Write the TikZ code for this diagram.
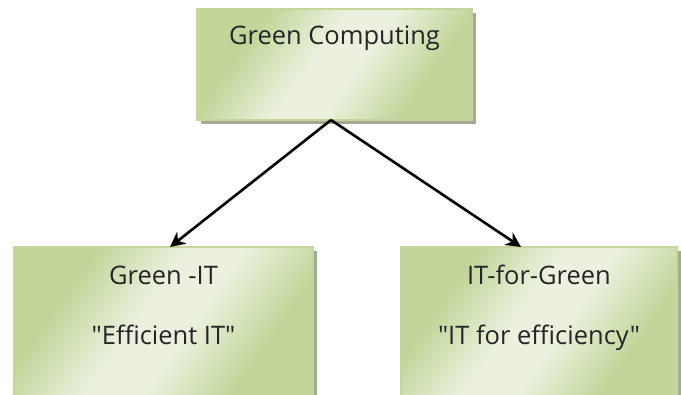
\documentclass[tikz,border=0pt]{standalone}
\usepackage{fontspec}
\setmainfont{Open Sans}[Ligatures=TeXOff]
\usetikzlibrary{arrows.meta}
\definecolor{gdark}{HTML}{C2D69B}
\definecolor{glight}{HTML}{EBF1DE}
\definecolor{gborder}{HTML}{C3D69B}
\definecolor{gshadow}{HTML}{A3AB94}
\pgfdeclarehorizontalshading{greenband}{100bp}{color(0bp)=(gdark); color(30bp)=(gdark); color(45bp)=(glight); color(55bp)=(glight); color(70bp)=(gdark); color(100bp)=(gdark)}
\tikzset{
  gbox/.style={draw=gborder, line width=1.5pt, shading=greenband, shading angle=-35, inner sep=0pt},
  gshad/.style={fill=gshadow, draw=none},
  conn/.style={line width=2.6pt, -{Stealth[length=15pt,width=15pt]}},
  lbl/.style={font=\fontsize{25.5}{30}\selectfont, text=black!85, inner sep=0pt}
}
\begin{document}
\begin{tikzpicture}[x=1pt,y=-1pt]
\useasboundingbox (0,0) rectangle (681,395);
% shadows
\fill[gshad] (201,13) rectangle (476,124);
\fill[gshad] (18,251) rectangle (317,400);
\fill[gshad] (405,251) rectangle (681,400);
% boxes
\path[gbox] (197,9) rectangle (472,120);
\path[gbox] (14,247) rectangle (313,400);
\path[gbox] (401,247) rectangle (677,400);
\coordinate (lbox) at (170,247);
\coordinate (rbox) at (521,247);
\node[lbl] (t1) at (334.5,38) {Green Computing};
\node[lbl] (l1) at (163.5,275) {Green -IT};
\node[lbl] (l2) at (163.5,335) {"Efficient IT"};
\node[lbl] (r1) at (539,275) {IT-for-Green};
\node[lbl] (r2) at (539,338) {"IT for efficiency"};
\coordinate (apex) at (331,120);
\draw[conn] (apex) -- (lbox);
\draw[conn] (apex) -- (rbox);
\end{tikzpicture}
\end{document}
